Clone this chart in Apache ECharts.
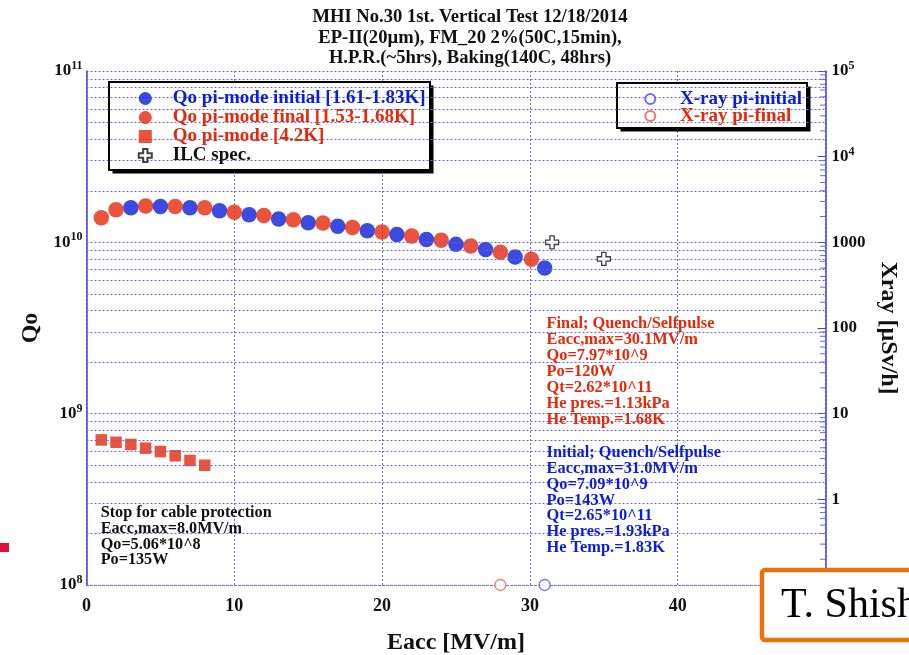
<!DOCTYPE html>
<html>
<head>
<meta charset="utf-8">
<script src="https://cdn.jsdelivr.net/npm/echarts@6/dist/echarts.min.js"></script>
<style>html,body{margin:0;padding:0;background:#fff}#c{width:909px;height:655px}</style>
</head>
<body>
<div id="c"></div>
<script>
// ---- data ----
const initialEacc = [3,5,7,9,11,13,15,17,19,21,23,25,27,29,31.0];
const initialQo   = [1.59e10,1.62e10,1.59e10,1.53e10,1.45e10,1.37e10,1.30e10,1.24e10,1.17e10,1.11e10,1.04e10,9.73e9,9.07e9,8.21e9,7.09e9];
const finalEacc   = [1,2,4,6,8,10,12,14,16,18,20,22,24,26,28,30.1];
const finalQo     = [1.39e10,1.55e10,1.63e10,1.62e10,1.59e10,1.50e10,1.435e10,1.355e10,1.295e10,1.22e10,1.148e10,1.088e10,1.027e10,9.51e9,8.75e9,7.97e9];
const k42Eacc     = [1,2,3,4,5,6,7,8];
const k42Qo       = [7.03e8,6.81e8,6.61e8,6.29e8,6.01e8,5.68e8,5.33e8,5.0e8];
const ilcEacc     = [31.5,35];
const ilcQo       = [1.0e10,8.0e9];
const xrayInitEacc = [31.0];
const xrayInitVal  = [0.1];
const xrayFinalEacc = [28.0];
const xrayFinalVal  = [0.1];
const xTicks = [0,10,20,30,40];
const qoGridValues = [2e8,3e8,4e8,5e8,6e8,7e8,8e8,9e8,1e9,2e9,3e9,4e9,5e9,6e9,7e9,8e9,9e9,1e10,2e10,3e10,4e10,5e10,6e10,7e10,8e10,9e10,1e11];
const xrayMinorTicks = [];
[0.1,1,10,100,1000,10000].forEach(d=>{for(let m=2;m<=9;m++) xrayMinorTicks.push(d*m);});

const BLUE = '#0a1ed8', RED = '#e6280a', GRID = '#6464ee', AX = '#4040e6';
const SERIF = '"Liberation Serif","DejaVu Serif",serif';
const zip = (a,b)=>a.map((v,i)=>[v,b[i]]);

const names = {
  init: 'Qo pi-mode initial [1.61-1.83K]',
  fin: 'Qo pi-mode final [1.53-1.68K]',
  k42: 'Qo pi-mode [4.2K]',
  ilc: 'ILC spec.',
  xi: 'X-ray pi-initial',
  xf: 'X-ray pi-final'
};
const crossPath = 'path://M4,0H8V4H12V8H8V12H4V8H0V4H4Z';

const chart = echarts.init(document.getElementById('c'), null, {renderer:'canvas'});
const supRich = (size) => ({
  b: {fontFamily: SERIF, fontWeight: 'bold', fontSize: size, color: '#111'},
  s: {fontFamily: SERIF, fontWeight: 'bold', fontSize: 12, color: '#111', verticalAlign: 'top', padding: [0,0,10,0]}
});
chart.setOption({
  animation: false,
  backgroundColor: '#fff',
  grid: {left: 86.5, right: 83.5, top: 71, bottom: 70, containLabel: false, outerBoundsMode: 'none'},
  xAxis: {
    type: 'value', min: 0, max: 50, interval: 10,
    axisLine: {lineStyle: {color: GRID, type: [2,2], width: 1}},
    axisTick: {show: false},
    axisLabel: {formatter: v => xTicks.indexOf(v) >= 0 ? String(v) : '', fontFamily: SERIF, fontWeight: 'bold', fontSize: 18, color: '#111', margin: 12},
    splitLine: {show: true, lineStyle: {color: GRID, type: [2,2], width: 1}},
    name: 'Eacc [MV/m]', nameLocation: 'middle', nameGap: 46,
    nameTextStyle: {fontFamily: SERIF, fontWeight: 'bold', fontSize: 24, color: '#111'}
  },
  yAxis: [{
    type: 'log', logBase: 10, min: 1e8, max: 1e11, splitNumber: 3,
    axisLine: {show: true, lineStyle: {color: AX, width: 1.5}},
    axisTick: {show: false},
    splitLine: {show: false},
    axisLabel: {
      margin: 4,
      formatter: v => '{b|10}{s|' + Math.round(Math.log10(v)) + '}',
      rich: supRich(17)
    },
    name: 'Qo', nameLocation: 'middle', nameGap: 39,
    nameTextStyle: {fontFamily: SERIF, fontWeight: 'bold', fontSize: 24, color: '#111'}
  },{
    type: 'log', logBase: 10, min: 0.1, max: 1e5, splitNumber: 6, position: 'right',
    axisLine: {show: true, lineStyle: {color: AX, width: 1.5}},
    axisTick: {show: true, inside: true, length: 8, lineStyle: {color: AX}},
    splitLine: {show: false},
    axisLabel: {
      margin: 6,
      formatter: v => {
        const e = Math.round(Math.log10(v));
        if (e < 0) return '';
        if (e >= 4) return '{b|10}{s|' + e + '}';
        return '{b|' + String(Math.pow(10, e)) + '}';
      },
      rich: supRich(17)
    },
    name: 'Xray [µSv/h]', nameLocation: 'middle', nameGap: 50, nameRotate: -90,
    nameTextStyle: {fontFamily: SERIF, fontWeight: 'bold', fontSize: 24, color: '#111'}
  }],
  legend: [{
    z: 10, orient: 'vertical', left: 137.8, top: 89, itemWidth: 13, itemHeight: 13, itemGap: 0,
    padding: 0,
    textStyle: {fontFamily: SERIF, fontWeight: 'bold', fontSize: 19, lineHeight: 18.9, padding: [0,0,0,16]},
    selectedMode: false,
    data: [
      {name: names.init, textStyle: {color: BLUE}},
      {name: names.fin, textStyle: {color: RED}},
      {name: names.k42, textStyle: {color: RED}},
      {name: names.ilc, textStyle: {color: '#111'}}
    ]
  },{
    z: 10, orient: 'vertical', left: 644.3, top: 89.5, itemWidth: 10, itemHeight: 10, itemGap: -2,
    padding: 0,
    textStyle: {fontFamily: SERIF, fontWeight: 'bold', fontSize: 19, lineHeight: 19, padding: [0,0,0,19.7]},
    selectedMode: false,
    data: [
      {name: names.xi, textStyle: {color: BLUE}},
      {name: names.xf, textStyle: {color: RED}}
    ]
  }],
  series: [
    {
      name: 'grid', type: 'line', data: [], silent: true, z: 1,
      markLine: {
        silent: true, symbol: 'none', label: {show: false},
        lineStyle: {color: GRID, type: [2,2], width: 1},
        data: qoGridValues.map(v => ({yAxis: v}))
      }
    },
    {name: names.init, type: 'scatter', data: zip(initialEacc, initialQo), symbol: 'circle', symbolSize: 15.5, itemStyle: {color: BLUE}, z: 3, clip: false},
    {name: names.fin, type: 'scatter', data: zip(finalEacc, finalQo), symbol: 'circle', symbolSize: 15.5, itemStyle: {color: RED}, z: 4, clip: false},
    {name: names.k42, type: 'scatter', data: zip(k42Eacc, k42Qo), symbol: 'rect', symbolSize: 11.5, itemStyle: {color: RED}, z: 4},
    {name: names.ilc, type: 'scatter', data: zip(ilcEacc, ilcQo), symbol: crossPath, symbolSize: 13, itemStyle: {color: '#fff', borderColor: '#111', borderWidth: 1.3}, z: 5},
    {name: names.xi, type: 'scatter', yAxisIndex: 1, data: zip(xrayInitEacc, xrayInitVal), symbol: 'circle', symbolSize: 11, itemStyle: {color: '#fff', borderColor: '#4a4af0', borderWidth: 1.3}, z: 5, clip: false},
    {name: names.xf, type: 'scatter', yAxisIndex: 1, data: zip(xrayFinalEacc, xrayFinalVal), symbol: 'circle', symbolSize: 11, itemStyle: {color: '#fff', borderColor: '#f05050', borderWidth: 1.3}, z: 5, clip: false},
    {name: 'xrayMinor', type: 'scatter', yAxisIndex: 1, data: xrayMinorTicks.map(v => [50, v]), symbol: 'rect', symbolSize: [5, 1], symbolOffset: [-3, 0], itemStyle: {color: AX}, silent: true, z: 2, clip: false}
  ],
  graphic: [
    {type: 'text', x: 470, y: 7, z: 10, style: {text: 'MHI No.30 1st. Vertical Test 12/18/2014\nEP-II(20µm), FM_20 2%(50C,15min),\nH.P.R.(~5hrs), Baking(140C, 48hrs)', align: 'center', verticalAlign: 'top', fontFamily: SERIF, fontWeight: 'bold', fontSize: 18.6, lineHeight: 20.5, fill: '#111'}},
    // legend frames
    {type: 'rect', z: 3, shape: {x: 112.5, y: 85.5, width: 321, height: 88}, style: {fill: '#000'}},
    {type: 'rect', z: 3, shape: {x: 109, y: 82, width: 321, height: 88}, style: {fill: '#fff', stroke: '#000', lineWidth: 2}},
    {type: 'rect', z: 3, shape: {x: 620.5, y: 86.5, width: 190, height: 45}, style: {fill: '#000'}},
    {type: 'rect', z: 3, shape: {x: 617, y: 83, width: 190, height: 45}, style: {fill: '#fff', stroke: '#000', lineWidth: 2}},
    // annotations
    {type: 'text', x: 546.5, y: 316, z: 10, style: {text: 'Final; Quench/Selfpulse\nEacc,max=30.1MV/m\nQo=7.97*10^9\nPo=120W\nQt=2.62*10^11\nHe pres.=1.13kPa\nHe Temp.=1.68K', verticalAlign: 'top', fontFamily: SERIF, fontWeight: 'bold', fontSize: 16.4, lineHeight: 15.9, fill: RED}},
    {type: 'text', x: 546.5, y: 444.8, z: 10, style: {text: 'Initial; Quench/Selfpulse\nEacc,max=31.0MV/m\nQo=7.09*10^9\nPo=143W\nQt=2.65*10^11\nHe pres.=1.93kPa\nHe Temp.=1.83K', verticalAlign: 'top', fontFamily: SERIF, fontWeight: 'bold', fontSize: 16.4, lineHeight: 15.85, fill: BLUE}},
    {type: 'text', x: 100.7, y: 505.5, z: 10, style: {text: 'Stop for cable protection\nEacc,max=8.0MV/m\nQo=5.06*10^8\nPo=135W', verticalAlign: 'top', fontFamily: SERIF, fontWeight: 'bold', fontSize: 16.2, lineHeight: 15.6, fill: '#111'}},
    // slide overlays
    {type: 'rect', z: 20, shape: {x: 762, y: 570, width: 170, height: 70, r: 3}, style: {fill: '#fff', stroke: '#e8720c', lineWidth: 4.5}},
    {type: 'text', z: 21, x: 781, y: 606, style: {text: 'T. Shish', verticalAlign: 'middle', fontFamily: SERIF, fontSize: 42, fill: '#000'}},
    {type: 'rect', z: 20, shape: {x: 0, y: 543, width: 9, height: 9}, style: {fill: '#e0103a'}}
  ]
});
</script>
</body>
</html>
